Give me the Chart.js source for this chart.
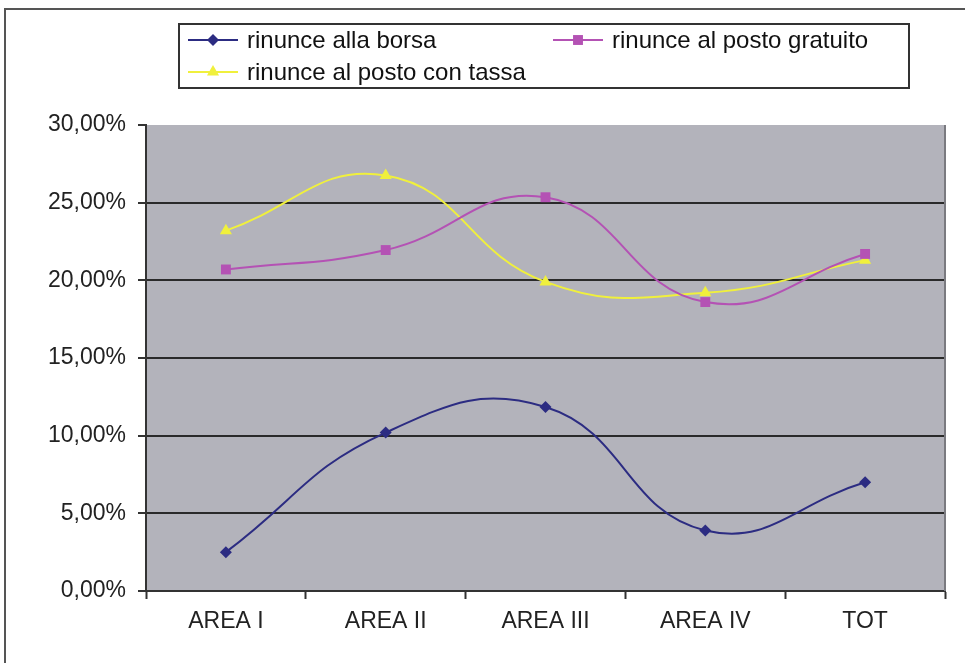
<!DOCTYPE html>
<html>
<head>
<meta charset="utf-8">
<script src="https://cdn.jsdelivr.net/npm/chart.js@4/dist/chart.umd.min.js"></script>
<style>
  html, body { margin: 0; padding: 0; background: #fff; }
  #wrap { width: 965px; height: 664px; position: relative; }
</style>
</head>
<body>
<div id="wrap"><canvas id="chart" width="965" height="664"></canvas></div>
<script>
const categories = ["AREA I", "AREA II", "AREA III", "AREA IV", "TOT"];
const borsa = [2.5, 10.2, 11.85, 3.9, 7.0];
const gratuito = [20.7, 21.95, 25.35, 18.6, 21.7];
const tassa = [23.2, 26.75, 19.9, 19.2, 21.3];
const yTicks = [0, 5, 10, 15, 20, 25, 30];

const FONT = "'Liberation Sans', Arial, sans-serif";

// grey plot background + outer frame
const backdrop = {
    id: 'backdrop',
    beforeDraw(chart) {
        const { ctx, chartArea: a } = chart;
        ctx.save();
        ctx.fillStyle = '#b3b3bb';
        ctx.fillRect(a.left, a.top, a.right - a.left, a.bottom - a.top);
        ctx.strokeStyle = '#555';
        ctx.lineWidth = 2;
        ctx.beginPath();
        ctx.moveTo(5, 663);
        ctx.lineTo(5, 9);
        ctx.lineTo(965, 9);
        ctx.stroke();
        ctx.restore();
    },
    afterDatasetsDraw(chart) {
        const { ctx, chartArea: a } = chart;
        ctx.save();
        ctx.strokeStyle = '#7a7a80';
        ctx.lineWidth = 2;
        ctx.beginPath();
        ctx.moveTo(a.right, a.top);
        ctx.lineTo(a.right, a.bottom);
        ctx.stroke();
        ctx.restore();
    }
};

// boxed legend, two columns like the original
const boxLegend = {
    id: 'boxLegend',
    afterDraw(chart) {
        const ctx = chart.ctx;
        const spots = [[188, 40], [553, 40], [188, 72]];
        ctx.save();
        ctx.strokeStyle = '#333';
        ctx.lineWidth = 2;
        ctx.strokeRect(179, 24, 730, 64);
        ctx.font = '24px ' + FONT;
        ctx.textBaseline = 'middle';
        chart.data.datasets.forEach((ds, i) => {
            const [x, y] = spots[i];
            ctx.strokeStyle = ds.borderColor;
            ctx.lineWidth = 2;
            ctx.beginPath();
            ctx.moveTo(x, y);
            ctx.lineTo(x + 50, y);
            ctx.stroke();
            ctx.fillStyle = ds.backgroundColor;
            Chart.helpers.drawPoint(ctx, {
                pointStyle: ds.pointStyle, radius: ds.pointRadius, rotation: 0, borderWidth: 0
            }, x + 25, y);
            ctx.fillStyle = '#111';
            ctx.fillText(ds.label, x + 59, y + 1);
        });
        ctx.restore();
    }
};

new Chart(document.getElementById('chart'), {
    type: 'line',
    data: {
        labels: categories,
        datasets: [
            {
                label: 'rinunce alla borsa',
                data: borsa,
                borderColor: '#2c2c82',
                backgroundColor: '#2c2c82',
                pointStyle: 'rectRot',
                pointRadius: 6
            },
            {
                label: 'rinunce al posto gratuito',
                data: gratuito,
                borderColor: '#b452b4',
                backgroundColor: '#b452b4',
                pointStyle: 'rect',
                pointRadius: 7
            },
            {
                label: 'rinunce al posto con tassa',
                data: tassa,
                borderColor: '#f0f03c',
                backgroundColor: '#f0f03c',
                pointStyle: 'triangle',
                pointRadius: 7
            }
        ]
    },
    options: {
        responsive: false,
        animation: false,
        layout: { padding: { left: 10, right: 20, top: 125, bottom: 0 } },
        elements: {
            line: { borderWidth: 2, tension: 0.45 },
            point: { borderWidth: 0 }
        },
        plugins: {
            legend: { display: false },
            tooltip: { enabled: false }
        },
        scales: {
            x: {
                offset: true,
                grid: {
                    offset: true,
                    drawOnChartArea: false,
                    tickLength: 8,
                    tickColor: '#333',
                    tickWidth: 2
                },
                border: { color: '#333', width: 2 },
                ticks: { color: '#222', font: { family: FONT, size: 23 }, padding: 9 },
                afterFit: s => { s.height = 73; }
            },
            y: {
                min: 0,
                max: 30,
                afterBuildTicks: s => { s.ticks = yTicks.map(v => ({ value: v })); },
                grid: {
                    color: c => c.tick && c.tick.value === 30 ? 'rgba(0,0,0,0)' : '#2a2a2a',
                    lineWidth: 2,
                    tickLength: 8,
                    tickColor: '#333',
                    tickWidth: 2
                },
                border: { color: '#333', width: 2 },
                ticks: {
                    color: '#222',
                    font: { family: FONT, size: 23 },
                    padding: 12,
                    callback: v => v.toFixed(2).replace('.', ',') + '%'
                },
                afterFit: s => { s.width = 136; }
            }
        }
    },
    plugins: [backdrop, boxLegend]
});
</script>
</body>
</html>
